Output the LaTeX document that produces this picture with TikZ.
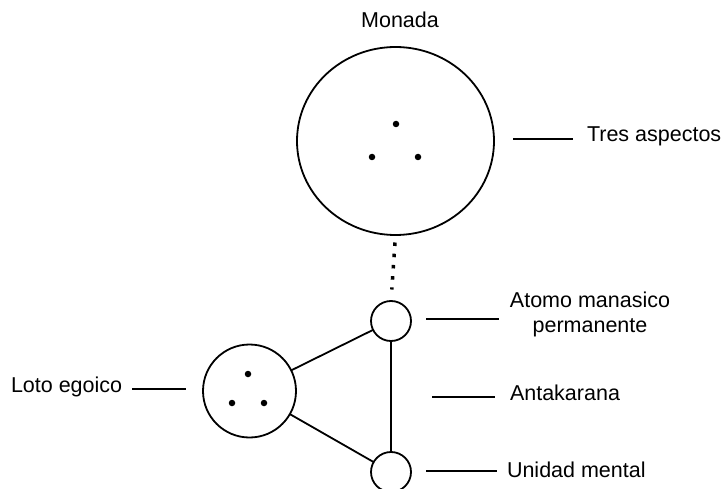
\documentclass[tikz,border=0pt]{standalone}
\usepackage{fontspec}
\setmainfont{Liberation Sans}
\usetikzlibrary{shapes.geometric}
\begin{document}
\begin{tikzpicture}[x=1pt,y=-1pt,
  every node/.style={inner sep=0pt, outer sep=0pt},
  ring/.style={draw, line width=1.8pt, circle},
  lbl/.style={font=\fontsize{21.5}{25}\selectfont, text=black},
  ln/.style={line width=1.8pt},
  dotmark/.style={fill, circle, minimum size=6.5pt}]
\useasboundingbox (0,0) rectangle (725,489);
% Monada
\node[draw, line width=1.8pt, ellipse, minimum width=197pt, minimum height=188pt] (mon) at (395.5,141) {};
\node[dotmark] (m1) at (396,124) {};
\node[dotmark] (m2) at (372,157) {};
\node[dotmark] (m3) at (418,157) {};
\node[lbl, anchor=base] (monada) at (400,28) {Monada};
% small circles
\node[ring, minimum size=40pt] (atomo) at (391,321) {};
\node[ring, minimum size=40pt] (unidad) at (391,472) {};
% loto
\node[ring, minimum size=93pt] (loto) at (249.5,391) {};
\node[dotmark] (l1) at (248,374) {};
\node[dotmark] (l2) at (232,403) {};
\node[dotmark] (l3) at (264,403) {};
% connectors
\draw[line width=3.5pt, dash pattern=on 3.5pt off 7.75pt, shorten <=7.5pt, shorten >=11.5pt] (mon.south) -- (atomo.north);
\draw[ln] (loto) -- (atomo);
\draw[ln] (loto) -- (unidad);
\draw[ln] (atomo) -- (unidad);
% labels
\node[lbl, anchor=base west] (tres) at (587,142) {Tres aspectos};
\coordinate (tresA) at (513,139); \coordinate (tresB) at (573,139);
\draw[ln] (tresA) -- (tresB);
\node[lbl, anchor=base, align=center] (atl) at (590,332) {Atomo manasico\\permanente};
\coordinate (atA) at (426,319); \coordinate (atB) at (499,319);
\draw[ln] (atA) -- (atB);
\node[lbl, anchor=base west] (ant) at (510,400) {Antakarana};
\coordinate (anA) at (432,397); \coordinate (anB) at (495,397);
\draw[ln] (anA) -- (anB);
\node[lbl, anchor=base west] (uni) at (507,477) {Unidad mental};
\coordinate (unA) at (426,471); \coordinate (unB) at (497,471);
\draw[ln] (unA) -- (unB);
\node[lbl, anchor=base west] (lot) at (11,392) {Loto egoico};
\coordinate (loA) at (132,389); \coordinate (loB) at (186,389);
\draw[ln] (loA) -- (loB);
\end{tikzpicture}
\end{document}
